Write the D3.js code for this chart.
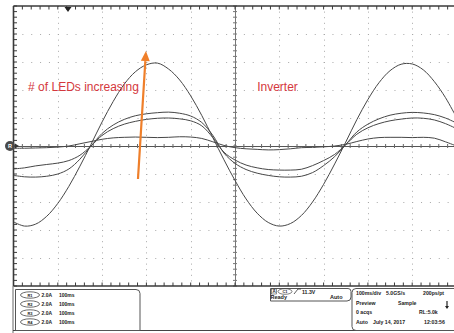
<!DOCTYPE html>
<html><head><meta charset="utf-8">
<script src="https://cdn.jsdelivr.net/npm/d3@7"></script>
<style>html,body{margin:0;padding:0;background:#fff;overflow:hidden}svg{display:block;font-family:"Liberation Sans",Arial,sans-serif}</style>
</head><body><svg id="c" width="454" height="333"></svg>
<script>
// time in divisions (100ms/div), centred on trigger
const time = [-5,-4.75,-4.5,-4.25,-4,-3.75,-3.5,-3.25,-3,-2.75,-2.5,-2.25,-2,-1.75,-1.5,-1.25,-1,-0.75,-0.5,-0.25,0,0.25,0.5,0.75,1,1.25,1.5,1.75,2,2.25,2.5,2.75,3,3.25,3.5,3.75,4,4.25,4.5,4.75,5];
// current traces in divisions (2.0A/div)
const ref1 = [-2.71,-2.86,-2.79,-2.51,-2.05,-1.44,-0.72,0.06,0.86,1.59,2.21,2.65,2.90,2.96,2.75,2.36,1.79,1.09,0.30,-0.49,-1.23,-1.89,-2.40,-2.73,-2.86,-2.77,-2.48,-2.00,-1.37,-0.64,0.14,0.94,1.66,2.26,2.69,2.92,2.93,2.72,2.30,1.73,1.02];
const ref2 = [-1.05,-1.10,-1.11,-1.08,-1.00,-0.82,-0.47,0.00,0.45,0.75,0.95,1.08,1.15,1.19,1.21,1.17,1.07,0.84,0.38,-0.25,-0.62,-0.84,-0.97,-1.05,-1.10,-1.11,-1.08,-0.95,-0.70,-0.38,0.05,0.50,0.78,0.97,1.10,1.17,1.20,1.18,1.12,1.00,0.82];
const ref3 = [-0.82,-0.78,-0.71,-0.66,-0.61,-0.52,-0.33,0.00,0.38,0.62,0.78,0.88,0.95,0.99,1.00,0.97,0.90,0.72,0.30,-0.22,-0.50,-0.68,-0.78,-0.84,-0.86,-0.86,-0.83,-0.70,-0.52,-0.30,0.05,0.42,0.65,0.80,0.90,0.96,1.00,0.99,0.93,0.80,0.62];
const ref4 = [-0.08,-0.08,-0.07,-0.06,-0.04,0.00,0.08,0.16,0.24,0.29,0.31,0.32,0.31,0.30,0.31,0.33,0.32,0.27,0.15,0.02,-0.06,-0.10,-0.12,-0.14,-0.13,-0.10,-0.06,-0.05,-0.03,0.00,0.06,0.16,0.25,0.30,0.31,0.31,0.30,0.31,0.28,0.15,0.00];
const series = [ref1, ref2, ref3, ref4];
const channelLabels = ["R1","R2","R3","R4"];
const channelScale = ["2.0A","2.0A","2.0A","2.0A"];
const channelTime = ["100ms","100ms","100ms","100ms"];
const annotLabel = "# of LEDs increasing";
const annotPos = [-4.67, 1.96];
const titleLabel = "Inverter";
const titlePos = [0.5, 1.96];
const arrowFrom = [-2.19, -1.18];
const arrowTo = [-2.01, 3.39];
const triggerPos = -3.77;
const trigInfo = ["11.3V","Ready","Auto"];
const acqRows = [["100ms/div","5.0GS/s","200ps/pt"],["Preview","Sample",""],["0 acqs","","RL:5.0k"],["Auto","July 14, 2017","12:03:56"]];

const svg = d3.select("#c");
svg.append("rect").attr("width",454).attr("height",333).attr("fill","#fff");
const x = d3.scaleLinear().domain([-5,5]).range([13.5, 456.5]);
const y = d3.scaleLinear().domain([-5,5]).range([286, 6]);
const g = svg.append("g");
const minorX = d3.range(-5, 5.001, 0.2);
const minorY = d3.range(-5, 5.001, 0.2);
const majors = [-4,-3,-2,-1,1,2,3,4];
const gridCol = "#a8a8a8", axCol = "#3a3a3a";

// dotted grid
g.selectAll(".gv").data(majors).join("line")
  .attr("x1", d=>Math.round(x(d))+0.5).attr("x2", d=>Math.round(x(d))+0.5)
  .attr("y1", y(5)).attr("y2", y(-5))
  .attr("stroke", gridCol).attr("stroke-dasharray", "1 4.6");
g.selectAll(".gh").data(majors).join("line")
  .attr("y1", d=>Math.round(y(d))+0.5).attr("y2", d=>Math.round(y(d))+0.5)
  .attr("x1", x(-5)).attr("x2", 454)
  .attr("stroke", gridCol).attr("stroke-dasharray", "1 7.86");

// centre cross
g.append("line").attr("x1", Math.round(x(0))+0.5).attr("x2", Math.round(x(0))+0.5).attr("y1", y(5)).attr("y2", y(-5)).attr("stroke", "#777");
g.append("line").attr("y1", Math.round(y(0))+0.5).attr("y2", Math.round(y(0))+0.5).attr("x1", x(-5)).attr("x2", 454).attr("stroke", "#555");
g.selectAll(".cvt").data(minorY).join("line")
  .attr("x1", x(0)-2).attr("x2", x(0)+2).attr("y1", d=>y(d)).attr("y2", d=>y(d)).attr("stroke", "#777");
g.selectAll(".cht").data(minorX).join("line")
  .attr("y1", y(0)-2).attr("y2", y(0)+2).attr("x1", d=>x(d)).attr("x2", d=>x(d)).attr("stroke", "#666");

// borders with ticks
g.append("line").attr("x1", x(-5)).attr("x2", x(-5)).attr("y1", y(5)).attr("y2", y(-5)).attr("stroke", axCol).attr("stroke-width", 1.6);
g.append("line").attr("x1", x(-5)).attr("x2", 454).attr("y1", y(5)).attr("y2", y(5)).attr("stroke", axCol).attr("stroke-width", 1.6);
g.append("line").attr("x1", x(-5)).attr("x2", 454).attr("y1", y(-5)).attr("y2", y(-5)).attr("stroke", axCol).attr("stroke-width", 1.6);
g.selectAll(".lt").data(minorY).join("line")
  .attr("x1", x(-5)).attr("x2", x(-5)+3.5).attr("y1", d=>y(d)).attr("y2", d=>y(d)).attr("stroke", axCol);
g.selectAll(".tt").data(minorX).join("line")
  .attr("y1", y(5)).attr("y2", y(5)+3.5).attr("x1", d=>x(d)).attr("x2", d=>x(d)).attr("stroke", axCol);
g.selectAll(".bt").data(minorX).join("line")
  .attr("y1", y(-5)).attr("y2", y(-5)-3.5).attr("x1", d=>x(d)).attr("x2", d=>x(d)).attr("stroke", axCol);

// waveforms
const line = d3.line().x((d,i)=>x(time[i])).y(d=>y(d)).curve(d3.curveCatmullRom.alpha(0.5));
svg.append("clipPath").attr("id","pc").append("rect").attr("x", x(-5)).attr("y", y(5)).attr("width", 454-x(-5)).attr("height", y(-5)-y(5));
g.append("g").attr("clip-path","url(#pc)").selectAll("path.w").data(series).join("path")
  .attr("d", d=>line(d)).attr("fill","none").attr("stroke","#474747").attr("stroke-width",1);

// markers
g.append("path").attr("d", `M${x(triggerPos)-3.5},${y(5)+1}L${x(triggerPos)+3.5},${y(5)+1}L${x(triggerPos)},${y(5)+6}Z`).attr("fill","#222");
g.append("circle").attr("cx", 10).attr("cy", y(0)).attr("r", 5).attr("fill","#4a4a4a");
g.append("text").attr("x",10).attr("y",y(0)+2).attr("text-anchor","middle").attr("font-size",5.5).attr("fill","#fff").attr("font-weight","bold").text("R");
g.append("path").attr("d", `M15,${y(0)-2.5}L19,${y(0)}L15,${y(0)+2.5}Z`).attr("fill","#333");

// annotations
g.append("text").attr("x", x(annotPos[0])).attr("y", y(annotPos[1])).attr("font-size", 12).attr("fill", "#d5383d").text(annotLabel);
g.append("text").attr("x", x(titlePos[0])).attr("y", y(titlePos[1])).attr("font-size", 12).attr("fill", "#d5383d").text(titleLabel);
const ax1 = x(arrowFrom[0]), ay1 = y(arrowFrom[1]), ax2 = x(arrowTo[0]), ay2 = y(arrowTo[1]);
const ang = Math.atan2(ay2-ay1, ax2-ax1);
const hl = 10, hw = 4.5;
const bx = ax2 - hl*Math.cos(ang), by = ay2 - hl*Math.sin(ang);
g.append("line").attr("x1", ax1).attr("y1", ay1).attr("x2", bx).attr("y2", by).attr("stroke", "#ef7f2a").attr("stroke-width", 2.2);
g.append("path").attr("d", `M${ax2},${ay2}L${bx + hw*Math.sin(ang)},${by - hw*Math.cos(ang)}L${bx - hw*Math.sin(ang)},${by + hw*Math.cos(ang)}Z`).attr("fill", "#ef7f2a");

// bottom panel
const p = svg.append("g").attr("font-weight","bold").attr("fill","#222");
p.append("line").attr("x1",13).attr("x2",13).attr("y1",286).attr("y2",333).attr("stroke","#666").attr("stroke-width",1);
p.append("line").attr("x1",13).attr("x2",454).attr("y1",330.5).attr("y2",330.5).attr("stroke","#444").attr("stroke-width",1);
p.append("path").attr("d","M15.5,289.5H136a4,4 0 0 1 4,4V330.5H15.5Z").attr("fill","none").attr("stroke","#555");
const rowsY = [295, 304, 313, 322];
channelLabels.forEach((lab,i)=>{
  p.append("ellipse").attr("cx",30).attr("cy",rowsY[i]).attr("rx",9.5).attr("ry",3.2).attr("fill","none").attr("stroke","#444").attr("stroke-width",0.8);
  p.append("text").attr("x",30).attr("y",rowsY[i]+1.5).attr("text-anchor","middle").attr("font-size",4).text(lab);
  p.append("text").attr("x",41.5).attr("y",rowsY[i]+1.8).attr("font-size",5).text(channelScale[i]);
  p.append("text").attr("x",59).attr("y",rowsY[i]+1.8).attr("font-size",5).text(channelTime[i]);
});
// trigger box
p.append("path").attr("d","M270.5,288.5H348a3,3 0 0 1 3,3V297a4,4 0 0 1 -4,4H270.5Z").attr("fill","none").attr("stroke","#555");
p.append("rect").attr("x",271.5).attr("y",289).attr("width",5).attr("height",5).attr("fill","none").attr("stroke","#444").attr("stroke-width",0.6);
p.append("text").attr("x",274).attr("y",293.3).attr("text-anchor","middle").attr("font-size",4.5).text("A");
p.append("ellipse").attr("cx",285).attr("cy",291.5).attr("rx",7).attr("ry",2.8).attr("fill","none").attr("stroke","#444").attr("stroke-width",0.7);
p.append("text").attr("x",285).attr("y",293).attr("text-anchor","middle").attr("font-size",4).text("C1");
p.append("path").attr("d","M294,294L298,289H301").attr("fill","none").attr("stroke","#333").attr("stroke-width",0.8);
p.append("text").attr("x",302).attr("y",293.5).attr("font-size",5.2).text(trigInfo[0]);
p.append("text").attr("x",270.5).attr("y",299).attr("font-size",5.5).text(trigInfo[1]);
p.append("text").attr("x",330).attr("y",299).attr("font-size",5.5).text(trigInfo[2]);
// acquisition box
p.append("path").attr("d","M456,288.5H356a4,4 0 0 0 -4,4V326.5a4,4 0 0 0 4,4H456").attr("fill","none").attr("stroke","#555");
const acqY = [295, 305, 314, 323.5];
const colX = [[356,386,423],[356,398,0],[356,0,419],[356,373,424]];
acqRows.forEach((r,i)=>r.forEach((t,j)=>{ if(t) p.append("text").attr("x",colX[i][j]).attr("y",acqY[i]).attr("font-size",5.2).text(t); }));
p.append("path").attr("d","M447,301V307.5").attr("stroke","#222").attr("stroke-width",1.2);
p.append("path").attr("d","M445,306L447,309L449,306Z").attr("fill","#222");
</script></body></html>
